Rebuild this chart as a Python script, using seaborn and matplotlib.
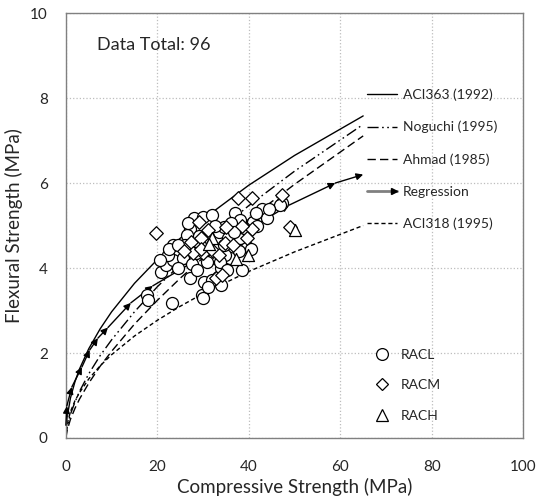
import pandas as pd
import numpy as np
import seaborn as sns
import matplotlib.pyplot as plt
from matplotlib.lines import Line2D

# Model curves (flexural vs compressive strength)
curve_fc = [0, 0.25, 1, 2, 3, 5, 7.5, 10, 15, 20, 25, 30, 40, 50, 65]
aci363 = [0, 0.47, 0.94, 1.33, 1.63, 2.10, 2.57, 2.97, 3.64, 4.20, 4.70, 5.15, 5.95, 6.65, 7.58]
noguchi = [0, 0.24, 0.56, 0.85, 1.10, 1.51, 1.94, 2.31, 2.97, 3.56, 4.08, 4.57, 5.47, 6.28, 7.38]
ahmad = [0, 0.17, 0.44, 0.70, 0.92, 1.29, 1.69, 2.04, 2.68, 3.24, 3.76, 4.24, 5.15, 5.97, 7.11]
aci318 = [0, 0.31, 0.62, 0.88, 1.07, 1.39, 1.70, 1.96, 2.40, 2.77, 3.10, 3.40, 3.92, 4.38, 5.00]

# Regression line with arrow heads
reg_x = [0.0, 0.2, 1.3, 3.5, 5.2, 7.0, 9.2, 14.2, 19.0, 48.8, 58.9, 65.0]
reg_y = [0.3, 0.75, 1.2, 1.67, 2.07, 2.35, 2.6, 3.18, 3.58, 5.48, 6.0, 6.2]

# Test data
racl_fc = [17.7, 17.9, 23.1, 20.9, 21.9, 23.5, 23.5, 22.4, 27.1, 27.1,
           27.1, 28.1, 30.0, 31.9, 29.7, 30.0, 30.3, 33.3, 34.0, 32.3,
           33.5, 34.5, 37.0, 38.1, 38.4, 37.0, 36.6, 35.9, 34.8, 41.0,
           42.8, 43.9, 47.2, 39.5, 38.1, 34.0, 31.9, 26.4, 29.3, 25.7,
           46.8, 26.0, 28.5, 33.0, 35.5, 36.0, 32.5, 29.0, 27.5, 30.8,
           33.8, 37.8, 35.2, 31.0, 28.6, 22.5, 24.5, 39.0, 41.5, 44.5,
           26.8, 38.5, 34.5, 41.8, 40.5, 36.8, 24.5, 20.5]
racl_fr = [3.36, 3.25, 3.18, 3.91, 4.07, 4.19, 4.54, 4.31, 4.19, 3.76,
           4.93, 5.17, 5.21, 5.25, 3.36, 3.29, 3.68, 3.80, 3.99, 4.23,
           4.85, 4.97, 5.29, 5.13, 4.78, 4.58, 4.38, 4.23, 4.31, 5.09,
           5.40, 5.17, 5.52, 4.50, 4.70, 3.60, 3.72, 4.77, 4.54, 4.23,
           5.48, 4.55, 4.35, 4.45, 4.70, 5.05, 5.00, 4.75, 4.10, 4.15,
           4.15, 4.40, 3.95, 3.55, 3.95, 4.45, 4.00, 4.95, 5.30, 5.40,
           5.05, 3.95, 4.55, 5.00, 4.45, 4.85, 4.55, 4.20]
racm_fc = [19.8, 37.7, 40.6, 47.2, 29.0, 31.1, 27.4, 29.6, 35.1, 34.8,
           30.0, 32.2, 40.6, 39.5, 32.9, 49.0, 34.2, 27.9, 33.5, 36.5,
           29.5, 38.5, 25.8]
racm_fr = [4.82, 5.64, 5.64, 5.72, 5.09, 4.89, 4.62, 4.70, 4.97, 4.58,
           4.35, 4.39, 4.93, 4.70, 3.76, 4.96, 3.84, 4.35, 4.30, 4.55,
           4.45, 5.00, 4.40]
rach_fc = [50.1, 31.9, 31.4, 37.3, 39.9]
rach_fr = [4.89, 4.70, 4.56, 4.22, 4.31]

curve_labels = ['ACI363 (1992)', 'Noguchi (1995)', 'Ahmad (1985)', 'Regression', 'ACI318 (1995)']
group_labels = ['RACL', 'RACM', 'RACH']


class ArrowHandle:
    """Legend handle: grey line with a black arrow head at the right end."""
    def legend_artist(self, legend, orig_handle, fontsize, handlebox):
        x0, y0 = -handlebox.xdescent, -handlebox.ydescent
        w, h = handlebox.width, handlebox.height
        line = Line2D([x0, x0 + w], [y0 + h / 2] * 2, color='#808080', lw=2)
        head = Line2D([x0 + w - 2], [y0 + h / 2], marker='>', markersize=5,
                      color='black', ls='none')
        handlebox.add_artist(line)
        handlebox.add_artist(head)
        return line


sns.set_theme(style='white')
plt.rcParams['font.family'] = ['Lato', 'DejaVu Sans']

fig, ax = plt.subplots(figsize=(5.4, 5.04), dpi=100)
fig.subplots_adjust(left=0.122, right=0.969, bottom=0.131, top=0.974)

# --- curves ---
styles = ['-', (0, (8, 2.5, 1.2, 2.5, 1.2, 2.5)), (0, (6, 3)), (0, (3, 2))]
for vals, ls in zip([aci363, noguchi, ahmad, aci318], styles):
    sns.lineplot(x=curve_fc, y=vals, ax=ax, color='black', lw=1, ls=ls,
                 sort=False, zorder=2)

for i in range(len(reg_x) - 1):
    ax.annotate('', xy=(reg_x[i + 1], reg_y[i + 1]), xytext=(reg_x[i], reg_y[i]),
                arrowprops=dict(arrowstyle='-|>', color='black', lw=1,
                                shrinkA=0, shrinkB=0, mutation_scale=10),
                zorder=3)

# --- scatter: circles, then diamonds, then triangles ---
pt_kw = dict(ax=ax, color='white', edgecolor='black', linewidth=0.9, zorder=4)
sns.scatterplot(x=racl_fc, y=racl_fr, marker='o', s=75, **pt_kw)
sns.scatterplot(x=racm_fc, y=racm_fr, marker='D', s=48, **pt_kw)
sns.scatterplot(x=rach_fc, y=rach_fr, marker='^', s=75, **pt_kw)

ax.set_xlim(0, 100)
ax.set_ylim(0, 10)
ax.set_xticks(range(0, 101, 20))
ax.set_yticks(range(0, 11, 2))
ax.tick_params(length=0, labelsize=11)
ax.tick_params(axis='x', pad=16)
ax.tick_params(axis='y', pad=13)
ax.grid(True, color='#bdbdbd', ls=':', lw=0.9)
for sp in ax.spines.values():
    sp.set_color('#808080')
    sp.set_linewidth(1)
ax.set_xlabel('Compressive Strength (MPa)', fontsize=13.5, labelpad=3)
ax.set_ylabel('Flexural Strength (MPa)', fontsize=13.5, labelpad=5)

ax.text(0.068, 0.925, 'Data Total: 96', transform=ax.transAxes,
        fontsize=13, va='center', ha='left')

# --- legends ---
line_handles = [
    Line2D([], [], color='black', lw=1, ls=styles[0]),
    Line2D([], [], color='black', lw=1, ls=styles[1]),
    Line2D([], [], color='black', lw=1, ls=styles[2]),
    Line2D([], [], color='#808080', lw=2),
    Line2D([], [], color='black', lw=1, ls=styles[3]),
]
leg1 = ax.legend(line_handles, curve_labels, loc='upper left',
                 bbox_to_anchor=(0.63, 0.852), frameon=False, fontsize=10,
                 handlelength=2.2, handletextpad=0.4, labelspacing=1.43,
                 handler_map={line_handles[3]: ArrowHandle()})
ax.add_artist(leg1)

mk_handles = [Line2D([], [], ls='none', marker=m, markersize=ms,
                     markerfacecolor='white', markeredgecolor='black',
                     markeredgewidth=0.9)
              for m, ms in [('o', 8.5), ('D', 6), ('^', 8.5)]]
ax.legend(mk_handles, group_labels, loc='upper left',
          bbox_to_anchor=(0.64, 0.24), frameon=False, fontsize=10,
          numpoints=1, handlelength=1.5, handletextpad=0.6,
          labelspacing=1.35)

plt.savefig('out.png', dpi=100)
